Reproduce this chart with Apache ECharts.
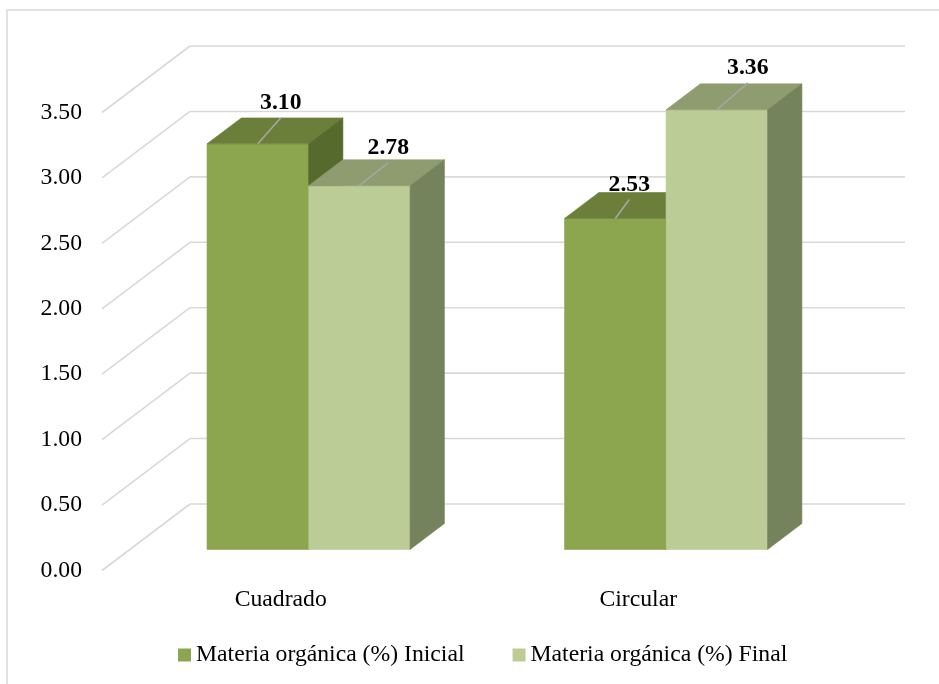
<!DOCTYPE html>
<html>
<head>
<meta charset="utf-8">
<script src="https://cdn.jsdelivr.net/npm/echarts@6/dist/echarts.min.js"></script>
<style>
  html, body { margin: 0; padding: 0; background: #ffffff; }
  #chart { width: 939px; height: 684px; }
</style>
</head>
<body>
<div id="chart"></div>
<script>
// ---- values ----
const categories = ['Cuadrado', 'Circular'];
const inicial = [3.10, 2.53];
const final = [2.78, 3.36];
const yTicks = [0, 0.5, 1, 1.5, 2, 2.5, 3, 3.5];
const seriesNames = ['Materia orgánica (%) Inicial', 'Materia orgánica (%) Final'];

// ---- oblique 3D look ----
const DEPTH = [88, -66.5];       // full depth of the plot box, px
const BAR_FRONT = 0.316;         // bars start this far into the depth
const BAR_DEPTH = 0.39;          // bar thickness as a share of the depth
const BAR_SHARE = 0.284;         // bar width as a share of a category band
const FONT = '"Liberation Serif", "Times New Roman", serif';
const FONT_SIZE = 23.7;
const GRID_COLOR = '#d9d9d9';
const palette = [
  { front: '#8ba64f', top: '#6b7f3a', side: '#566a2e' },
  { front: '#bbcc96', top: '#8e9c70', side: '#75835d' }
];
// end of each value-label leader, relative to the bar's front-top centre
const leaderShift = [
  [[23, -26], [14, -19]],
  [[29, -23], [31, -27]]
];

function face(points, color) {
  return { type: 'polygon', shape: { points: points },
           style: { fill: color, stroke: color, lineWidth: 0.6 } };
}

function wallRenderer(params, api) {
  const v = api.value(1);
  const cs = params.coordSys;
  const y = api.coord([0, v])[1];
  const xl = cs.x, xr = cs.x + cs.width;
  const st = { stroke: GRID_COLOR, lineWidth: 1.6 };
  return {
    type: 'group',
    children: [
      { type: 'line', shape: { x1: xl, y1: y, x2: xl + DEPTH[0], y2: y + DEPTH[1] }, style: st },
      { type: 'line', shape: { x1: xl + DEPTH[0], y1: y + DEPTH[1], x2: xr + DEPTH[0], y2: y + DEPTH[1] }, style: st }
    ]
  };
}

function barRenderer(si) {
  return function (params, api) {
    const ci = api.value(0), v = api.value(1);
    const base = api.coord([ci, 0]);
    const tip = api.coord([ci, v]);
    const w = api.size([1, 0])[0] * BAR_SHARE;
    const fx = DEPTH[0] * BAR_FRONT, fy = DEPTH[1] * BAR_FRONT;
    const dx = DEPTH[0] * BAR_DEPTH, dy = DEPTH[1] * BAR_DEPTH;
    const x0 = base[0] + fx + (si === 0 ? -w : 0);
    const x1 = x0 + w;
    const yb = base[1] + fy, yt = tip[1] + fy;
    const c = palette[si];
    const cx = (x0 + x1) / 2;
    const sh = leaderShift[si][params.dataIndex];
    return {
      type: 'group',
      children: [
        face([[x0, yb], [x1, yb], [x1, yt], [x0, yt]], c.front),
        face([[x0, yt], [x1, yt], [x1 + dx, yt + dy], [x0 + dx, yt + dy]], c.top),
        face([[x1, yb], [x1 + dx, yb + dy], [x1 + dx, yt + dy], [x1, yt]], c.side),
        { type: 'line', z2: 50,
          shape: { x1: cx, y1: yt, x2: cx + sh[0], y2: yt + sh[1] },
          style: { stroke: '#a6a6a6', lineWidth: 1.6 } },
        { type: 'text', z2: 60, x: cx + sh[0], y: yt + sh[1] - 14.5,
          style: { text: v.toFixed(2), fill: '#000000', font: 'bold ' + FONT_SIZE + 'px ' + FONT,
                   align: 'center', verticalAlign: 'middle' } }
      ]
    };
  };
}

const chart = echarts.init(document.getElementById('chart'), null, { renderer: 'canvas' });

chart.setOption({
  animation: false,
  backgroundColor: '#ffffff',
  graphic: [{
    type: 'rect', silent: true, z: -10,
    shape: { x: 7, y: 10, width: 1000, height: 1000 },
    style: { fill: 'none', stroke: GRID_COLOR, lineWidth: 1.5 }
  }],
  grid: { left: 102, right: 122, top: 112.5, bottom: 113.5, containLabel: false },
  legend: {
    data: seriesNames,
    left: 178, top: 643, padding: 0,
    icon: 'rect', itemWidth: 13, itemHeight: 13, itemGap: 48,
    textStyle: { fontFamily: FONT, fontSize: FONT_SIZE, color: '#000000' }
  },
  xAxis: {
    type: 'category',
    data: categories,
    axisLine: { show: false },
    axisTick: { show: false },
    splitLine: { show: false },
    axisLabel: { margin: 17, fontFamily: FONT, fontSize: FONT_SIZE, color: '#000000' }
  },
  yAxis: {
    type: 'value',
    min: 0, max: 3.5, interval: 0.5,
    axisLine: { show: false },
    axisTick: { show: false },
    splitLine: { show: false },
    axisLabel: {
      margin: 20, fontFamily: FONT, fontSize: FONT_SIZE, color: '#000000',
      padding: [4, 0, 0, 0],
      formatter: function (v) { return v.toFixed(2); }
    }
  },
  series: [
    {
      type: 'custom', name: 'walls', silent: true, z: 1,
      renderItem: wallRenderer,
      data: yTicks.map(function (v) { return [0, v]; })
    },
    {
      type: 'custom', name: seriesNames[0], z: 2,
      itemStyle: { color: palette[0].front },
      renderItem: barRenderer(0),
      data: inicial.map(function (v, i) { return [i, v]; })
    },
    {
      type: 'custom', name: seriesNames[1], z: 2,
      itemStyle: { color: palette[1].front },
      renderItem: barRenderer(1),
      data: final.map(function (v, i) { return [i, v]; })
    }
  ]
});
</script>
</body>
</html>
